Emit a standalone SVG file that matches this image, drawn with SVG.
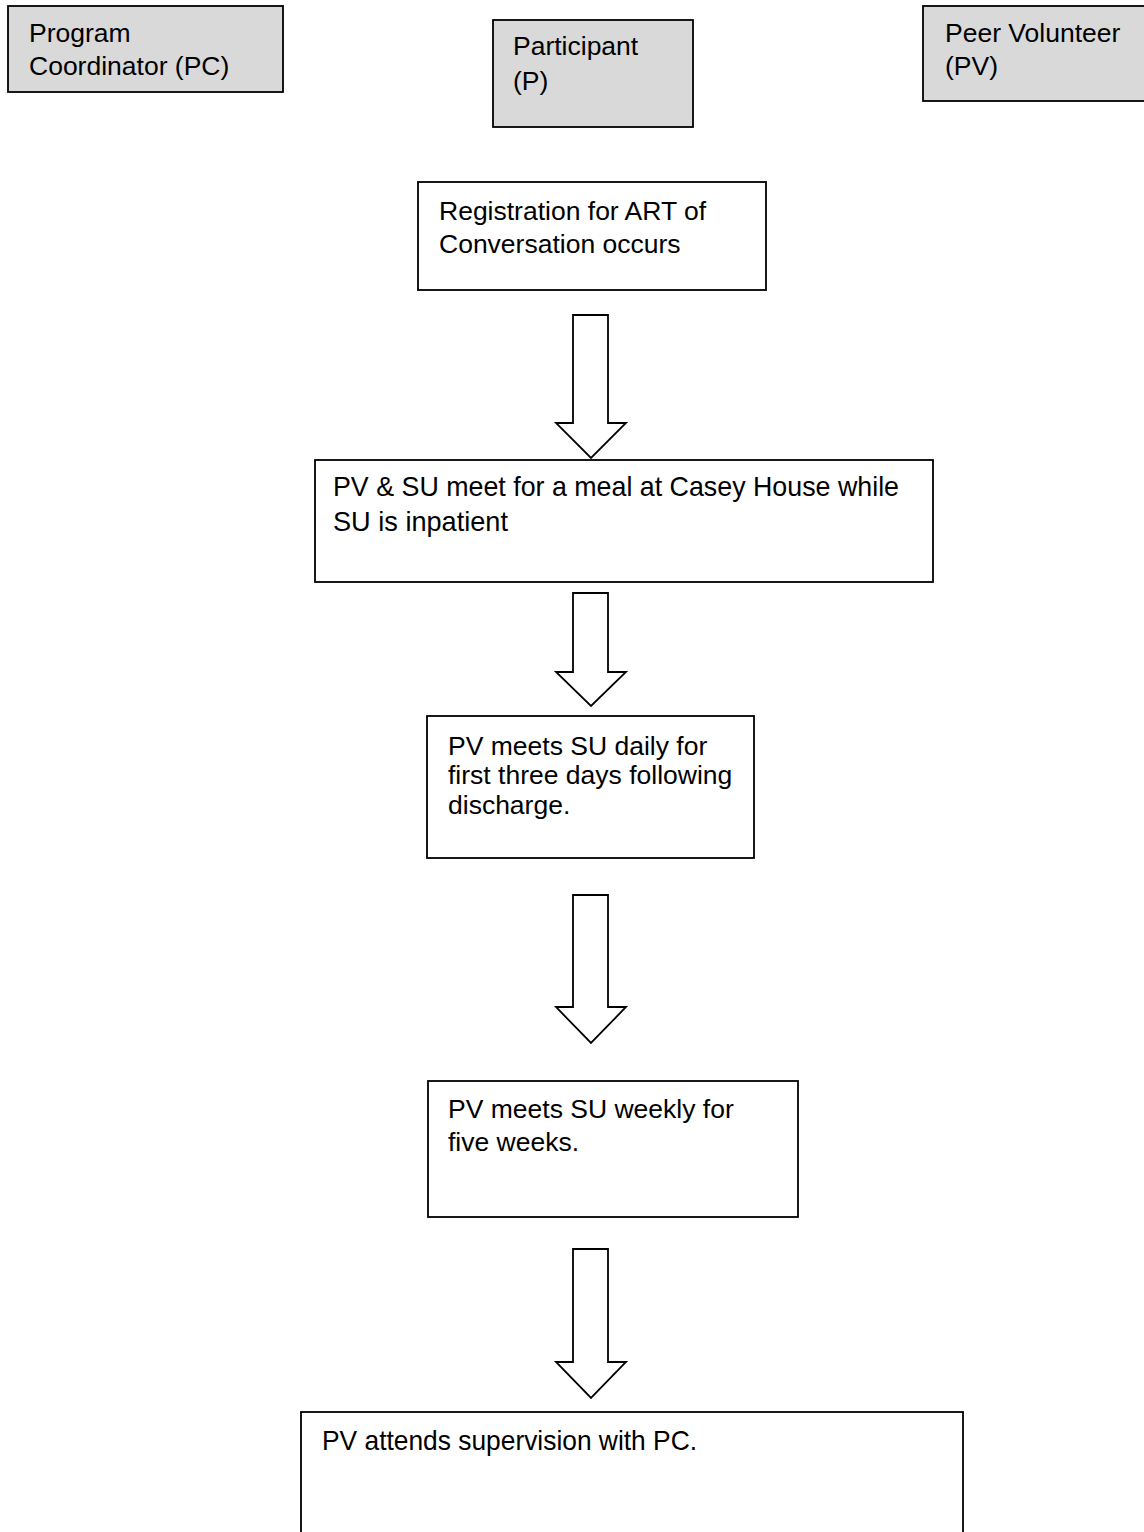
<svg xmlns="http://www.w3.org/2000/svg" width="1144" height="1532" viewBox="0 0 1144 1532">
<style>
.box{fill:#ffffff;stroke:#000;stroke-width:1.8}
.role{fill:#d9d9d9;stroke:#000;stroke-width:1.8}
.arrow{fill:#ffffff;stroke:#000;stroke-width:1.8;stroke-linejoin:miter}
text{font-family:"Liberation Sans",Arial,sans-serif;font-size:26.5px;fill:#000}
</style>
<rect width="1144" height="1532" fill="#ffffff"/>
<g id="pc">
<rect class="role" x="8" y="6" width="275" height="86"/>
<text x="29" y="42">Program</text>
<text x="29" y="75">Coordinator (PC)</text>
</g>
<g id="participant">
<rect class="role" x="493" y="20" width="200" height="107"/>
<text x="513" y="55">Participant</text>
<text x="513" y="90">(P)</text>
</g>
<g id="pv">
<rect class="role" x="923" y="6" width="230" height="95"/>
<text x="945" y="42">Peer Volunteer</text>
<text x="945" y="75">(PV)</text>
</g>
<g id="registration">
<rect class="box" x="418" y="182" width="348" height="108"/>
<text x="439" y="220">Registration for ART of</text>
<text x="439" y="253">Conversation occurs</text>
</g>
<g id="meal">
<rect class="box" x="315" y="460" width="618" height="122"/>
<text x="333" y="496" textLength="566" lengthAdjust="spacingAndGlyphs" style="font-size:28px">PV &amp; SU meet for a meal at Casey House while</text>
<text x="333" y="531" style="font-size:28px" textLength="175" lengthAdjust="spacingAndGlyphs">SU is inpatient</text>
</g>
<g id="daily">
<rect class="box" x="427" y="716" width="327" height="142"/>
<text x="448" y="755">PV meets SU daily for</text>
<text x="448" y="784">first three days following</text>
<text x="448" y="814">discharge.</text>
</g>
<g id="weekly">
<rect class="box" x="428" y="1081" width="370" height="136"/>
<text x="448" y="1118">PV meets SU weekly for</text>
<text x="448" y="1151">five weeks.</text>
</g>
<g id="supervision">
<rect class="box" x="301" y="1412" width="662" height="140"/>
<text x="322" y="1450" style="font-size:28px" textLength="375" lengthAdjust="spacingAndGlyphs">PV attends supervision with PC.</text>
</g>
<g id="connectors">
<path class="arrow" d="M573,315 L608,315 L608,423 L626,423 L591,458 L556,423 L573,423 Z"/>
<path class="arrow" d="M573,593 L608,593 L608,672 L626,672 L591,706 L556,672 L573,672 Z"/>
<path class="arrow" d="M573,895 L608,895 L608,1007 L626,1007 L591,1043 L556,1007 L573,1007 Z"/>
<path class="arrow" d="M573,1249 L608,1249 L608,1362 L626,1362 L591,1398 L556,1362 L573,1362 Z"/>
</g>
</svg>
